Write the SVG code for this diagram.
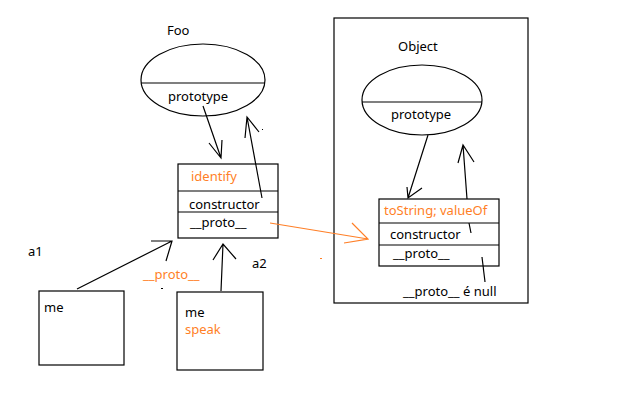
<svg xmlns="http://www.w3.org/2000/svg" width="633" height="408" viewBox="0 0 633 408">
<style>
.s{fill:none;stroke:#000;stroke-width:1.2}
.o{fill:none;stroke:#ff7f27;stroke-width:1.2}
text{font-family:"Noto Sans","Liberation Sans",sans-serif;font-size:13px;fill:#000}
.ot{fill:#ff7f27}
</style>
<rect width="633" height="408" fill="#fff"/>
<g id="object-frame">
<rect class="s" x="334" y="18" width="194" height="285"/>
<text x="398" y="51">Object</text>
</g>
<g id="foo-ellipse">
<text x="167" y="35">Foo</text>
<ellipse class="s" cx="203" cy="80" rx="62" ry="36"/>
<line class="s" x1="141" y1="83" x2="265" y2="83"/>
<text x="168" y="101">prototype</text>
</g>
<g id="foo-proto">
<rect class="s" x="178" y="164" width="100" height="74"/>
<line class="s" x1="178" y1="191" x2="278" y2="191"/>
<line class="s" x1="178" y1="212" x2="278" y2="212"/>
<text class="ot" x="191" y="181">identify</text>
<text x="189" y="209">constructor</text>
<text x="190" y="227">__proto__</text>
</g>
<g id="object-ellipse">
<ellipse class="s" cx="422" cy="100" rx="60" ry="35"/>
<line class="s" x1="362" y1="102" x2="482" y2="102"/>
<text x="391" y="119">prototype</text>
</g>
<g id="object-proto">
<rect class="s" x="379" y="199" width="120" height="67"/>
<line class="s" x1="379" y1="223" x2="499" y2="223"/>
<line class="s" x1="379" y1="245" x2="499" y2="245"/>
<text class="ot" x="384" y="215">toString; valueOf</text>
<text x="390" y="239">constructor</text>
<text x="393" y="258">__proto__</text>
<text x="403" y="296">__proto__ é null</text>
</g>
<g id="a1">
<text x="28" y="256">a1</text>
<rect class="s" x="39" y="291" width="85" height="74"/>
<text x="44" y="312">me</text>
</g>
<g id="a2">
<text x="252" y="268">a2</text>
<rect class="s" x="177" y="292" width="86" height="78"/>
<text x="185" y="317">me</text>
<text class="ot" x="185" y="334">speak</text>
</g>
<text class="ot" x="143" y="279">__proto__</text>
<g id="connectors">
<path class="s" d="M203 106 L221 158 M209 143 L221 158 L222 140"/>
<path class="s" d="M262 198 L247 117 M245 138 L247 117 L259 132"/>
<path class="s" d="M428 135 L408 198 M407 187 L408 198 L422 188"/>
<path class="s" d="M467 199 L463 145 M458 163 L463 145 L474 162 M469 223 L471 233"/>
<path class="s" d="M482 257 L485 282"/>
<path class="s" d="M77 289 L172 241 M151 241 L172 241 L166 261"/>
<path class="s" d="M221 291 L223 244 M213 260 L223 244 L236 259"/>
<path class="o" d="M270 223 L368 239 M352 223 L368 239 L344 243"/>
<rect x="320" y="258" width="2" height="1" fill="#ff7f27"/>
<rect x="161" y="288" width="2" height="1" fill="#000"/>
<rect x="262" y="129" width="1" height="1" fill="#000"/>
</g>
</svg>
